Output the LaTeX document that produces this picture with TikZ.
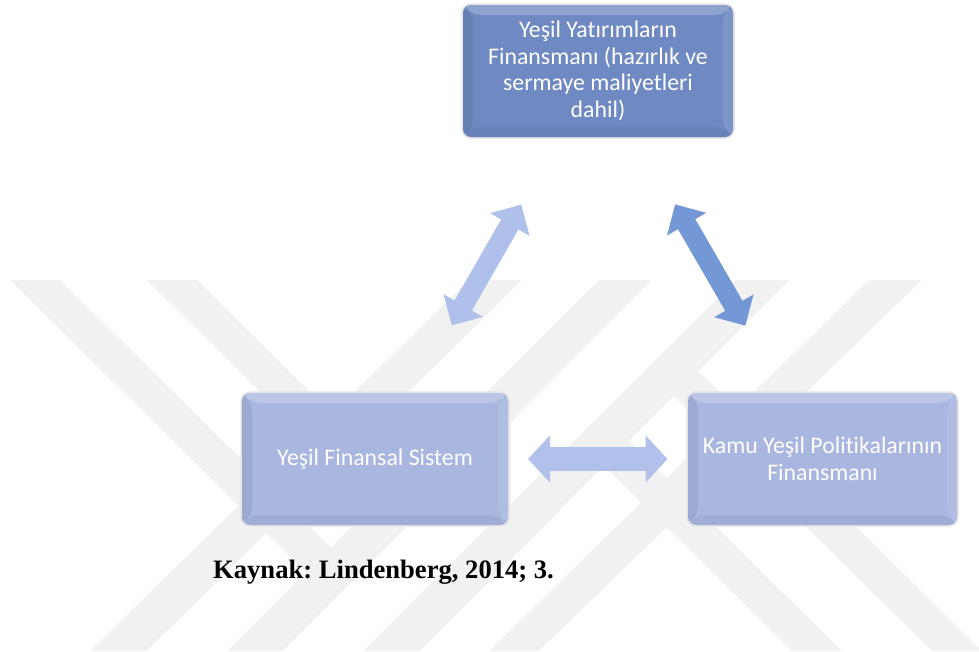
\documentclass[tikz,border=0pt]{standalone}
\usepackage{fontspec}
\newfontfamily\calib[Ligatures=NoCommon]{Carlito}
\newfontfamily\tnr{Liberation Serif}
\usetikzlibrary{arrows.meta}
\definecolor{topfill}{RGB}{111,138,194}
\definecolor{lightfill}{RGB}{168,182,224}
\definecolor{arrowL}{RGB}{175,192,234}
\definecolor{arrowR}{RGB}{116,152,213}
\definecolor{arrowH}{RGB}{178,193,235}
\definecolor{wm}{RGB}{241,241,241}
\begin{document}
\frenchspacing
\begin{tikzpicture}[x=1pt,y=-1pt,
  bevelbox/.style={rounded corners=8pt, fill=#1,
    preaction={draw=black!10, line width=3.5pt},
    text=white, align=center, inner sep=0pt,
    font=\calib\fontsize{23.8}{26.5}\selectfont,
    minimum height=132pt,
    path picture={
      \fill[white,opacity=0.22] (path picture bounding box.north west) -- (path picture bounding box.north east)
        -- ([xshift=-10pt,yshift=-10pt]path picture bounding box.north east) -- ([xshift=10pt,yshift=-10pt]path picture bounding box.north west) -- cycle;
      \fill[white,opacity=0.10] (path picture bounding box.north east) -- (path picture bounding box.south east)
        -- ([xshift=-10pt,yshift=10pt]path picture bounding box.south east) -- ([xshift=-10pt,yshift=-10pt]path picture bounding box.north east) -- cycle;
      \fill[black,opacity=0.07] (path picture bounding box.north west) -- (path picture bounding box.south west)
        -- ([xshift=10pt,yshift=10pt]path picture bounding box.south west) -- ([xshift=10pt,yshift=-10pt]path picture bounding box.north west) -- cycle;
      \fill[black,opacity=0.05] (path picture bounding box.south west) -- (path picture bounding box.south east)
        -- ([xshift=-10pt,yshift=10pt]path picture bounding box.south east) -- ([xshift=10pt,yshift=10pt]path picture bounding box.south west) -- cycle;
    }},
  dblarrow/.style={draw=#1, line width=20pt, shorten <=154pt, shorten >=154pt,
    {Triangle[length=23pt,width=44pt]}-{Triangle[length=23pt,width=44pt]}},
  harrow/.style={draw=#1, line width=24pt, shorten <=153pt, shorten >=155pt,
    {Triangle[length=22pt,width=46pt]}-{Triangle[length=22pt,width=46pt]}}
]
\useasboundingbox (0,0) rectangle (979,651);
% watermark
\fill[wm] (90,651) -- (147,651) -- (522,280) -- (469,280) -- cycle;
\fill[wm] (227,651) -- (283,651) -- (652,280) -- (599,280) -- cycle;
\fill[wm] (363,651) -- (420,651) -- (789,280) -- (736,280) -- cycle;
\fill[wm] (489,651) -- (539,651) -- (922,280) -- (869,280) -- cycle;
\fill[wm] (10,280) -- (60,280) -- (359,575) -- (334,600) -- cycle;
\fill[wm] (147,280) -- (197,280) -- (426,507) -- (402,532) -- cycle;
\fill[wm] (792,651) -- (842,651) -- (601.5,413.6) -- (576.6,438.4) -- cycle;
\fill[wm] (932,651) -- (982,651) -- (671,344) -- (646,369) -- cycle;
% boxes
\node[bevelbox=topfill, minimum width=270pt] (T) at (598,71)
  {Yeşil Yatırımların\\Finansmanı (hazırlık ve\\sermaye maliyetleri\\dahil)};
\node[bevelbox=lightfill, minimum width=266pt] (L) at (375,459) {Yeşil Finansal Sistem};
\node[bevelbox=lightfill, minimum width=269pt] (R) at (822.5,459) {Kamu Yeşil Politikalarının\\Finansmanı};
% arrows
\draw[dblarrow=arrowL] (L.center) -- (T.center);
\draw[dblarrow=arrowR] (T.center) -- (R.center);
\draw[harrow=arrowH] (L.center) -- (R.center);
% caption
\node[anchor=base west, inner sep=0pt, font=\tnr\bfseries\fontsize{26.6}{30}\selectfont] (cap) at (213,578) {Kaynak: Lindenberg, 2014; 3.};
\end{tikzpicture}
\end{document}
